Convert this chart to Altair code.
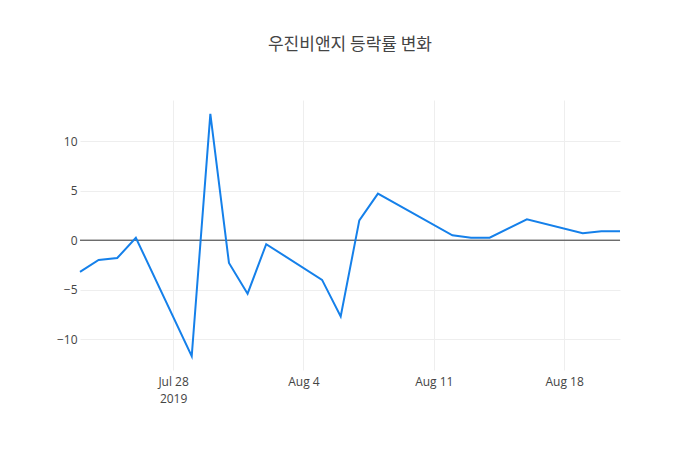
import altair as alt
import pandas as pd

dates = ["2019-07-23", "2019-07-24", "2019-07-25", "2019-07-26", "2019-07-29",
         "2019-07-30", "2019-07-31", "2019-08-01", "2019-08-02", "2019-08-05",
         "2019-08-06", "2019-08-07", "2019-08-08", "2019-08-12", "2019-08-13",
         "2019-08-14", "2019-08-16", "2019-08-19", "2019-08-20", "2019-08-21"]
rates = [-3.2, -2.0, -1.8, 0.25, -11.7,
         12.75, -2.3, -5.4, -0.4, -4.0,
         -7.7, 2.0, 4.7, 0.5, 0.25,
         0.25, 2.1, 0.7, 0.9, 0.9]
title_text = "우진비앤지 등락률 변화"
y_ticks = [-10, -5, 0, 5, 10]

df = pd.DataFrame({"date": dates, "rate": rates})

font = "Open Sans"
x_scale = alt.Scale(type="utc",
                    domain=[alt.DateTime(year=2019, month=7, date=23, utc=True),
                            alt.DateTime(year=2019, month=8, date=21, utc=True)])
y_scale = alt.Scale(domain=[-13.1, 14.15], nice=False, zero=False)

x_ticks = [alt.DateTime(year=2019, month=7, date=28, utc=True),
           alt.DateTime(year=2019, month=8, date=4, utc=True),
           alt.DateTime(year=2019, month=8, date=11, utc=True),
           alt.DateTime(year=2019, month=8, date=18, utc=True)]

line = alt.Chart(df).mark_line(color="#1580ea", strokeWidth=2).encode(
    x=alt.X("date:T", scale=x_scale, title=None,
            axis=alt.Axis(values=x_ticks, grid=True, gridColor="#eeeeee",
                          domain=False, ticks=False, labelPadding=6,
                          labelFontSize=12, labelColor="#444444", labelFont=font,
                          labelLineHeight=17,
                          labelExpr="utcdate(datum.value)==28 && utcmonth(datum.value)==6 ? ['Jul 28','2019'] : utcFormat(datum.value, '%b %-d')")),
    y=alt.Y("rate:Q", scale=y_scale, title=None,
            axis=alt.Axis(values=y_ticks, grid=True, gridColor="#eeeeee",
                          domain=False, ticks=False, labelPadding=3,
                          labelFontSize=12, labelColor="#444444", labelFont=font,
                          labelExpr="replace(format(datum.value, 'd'), '-', '\u2212')")),
)

zero = alt.Chart(pd.DataFrame({"y": [0]})).mark_rule(color="#333333", strokeWidth=1).encode(
    y=alt.Y("y:Q", scale=y_scale)
)

chart = alt.layer(zero, line).properties(
    width=540, height=270,
    background="white",
    title=alt.TitleParams(title_text, font="Noto Sans CJK KR", fontSize=17,
                          fontWeight="normal", color="#444444", offset=46,
                          anchor="middle"),
    autosize=alt.AutoSizeParams(type="none"),
    padding={"left": 72, "top": 92, "right": 64, "bottom": 64},
).configure_view(strokeWidth=0)

chart.save("out.html", embed_options={"renderer": "svg", "actions": False})
